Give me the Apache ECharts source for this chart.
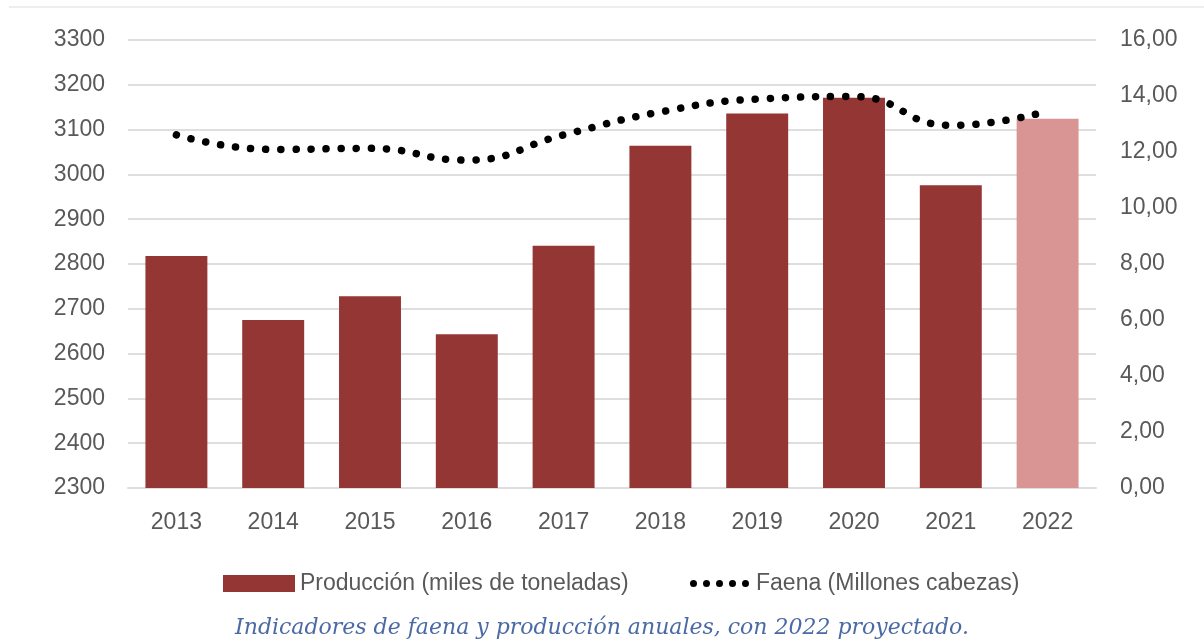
<!DOCTYPE html>
<html>
<head>
<meta charset="utf-8">
<title>Faena y producción</title>
<script src="https://cdn.jsdelivr.net/npm/echarts@6/dist/echarts.min.js"></script>
<style>
	html, body { margin: 0; padding: 0; background: #ffffff; }
	#chart_faena { width: 1204px; height: 641px; }
</style>
</head>
<body>
<div id="chart_faena"></div>
<script>
	// datos
	var years = ['2013', '2014', '2015', '2016', '2017', '2018', '2019', '2020', '2021', '2022'];
	var produccion = [2818, 2675, 2728, 2643, 2841, 3064, 3136, 3171, 2976, 3124];
	var faena = [12.61, 12.09, 12.13, 11.71, 12.61, 13.43, 13.89, 13.98, 12.95, 13.46];
	var projected_year = '2022';

	var bar_color = '#943634';
	var projected_color = '#D99594';
	var grid_color = '#DEDEDE';
	var label_color = '#595959';
	var font = 'Liberation Sans';

	// icono de leyenda: cinco puntos
	var dots_icon = 'path://';
	for (var d = 0; d < 5; d++) {
		var cx = 3.5 + d * 13;
		dots_icon += 'M' + (cx - 3.5) + ',3.5 a3.5,3.5 0 1,0 7,0 a3.5,3.5 0 1,0 -7,0 ';
	}

	var bar_data = produccion.map(function(v, i) {
		if (years[i] === projected_year) {
			return { value: v, itemStyle: { color: projected_color } };
		}
		return v;
	});

	var chart_faena = echarts.init(document.getElementById('chart_faena'));
	var option_faena = {
		animation: false,
		backgroundColor: '#ffffff',
		grid: { left: 128, right: 108, top: 40, bottom: 153 },
		graphic: [{
			type: 'line',
			shape: { x1: 9, y1: 7, x2: 1204, y2: 7 },
			style: { stroke: '#EEEEEE', lineWidth: 2 }
		}],
		title: {
			text: 'Indicadores de faena y producción anuales, con 2022 proyectado.',
			left: 'center',
			top: 612,
			textStyle: {
				fontFamily: 'DejaVu Serif',
				fontStyle: 'italic',
				fontWeight: 'normal',
				fontSize: 22,
				color: '#4B6AA5'
			}
		},
		legend: [{
			data: [{ name: 'Producción (miles de toneladas)', icon: 'rect' }],
			left: 218,
			top: 567,
			itemWidth: 72,
			itemHeight: 17,
			textStyle: { fontFamily: font, fontSize: 23, color: label_color }
		}, {
			data: [{ name: 'Faena (Millones cabezas)', icon: dots_icon }],
			left: 685,
			top: 567,
			itemWidth: 59,
			itemHeight: 7,
			textStyle: { fontFamily: font, fontSize: 23, color: label_color, padding: [0, 0, 0, 2] }
		}],
		xAxis: {
			type: 'category',
			data: years,
			axisTick: { show: false },
			axisLine: { lineStyle: { color: grid_color, width: 2 } },
			axisLabel: { fontFamily: font, fontSize: 23, color: label_color, margin: 23 }
		},
		yAxis: [{
			type: 'value',
			min: 2300,
			max: 3300,
			interval: 100,
			axisLine: { show: false },
			axisTick: { show: false },
			splitLine: { lineStyle: { color: grid_color, width: 2 } },
			axisLabel: {
				fontFamily: font,
				fontSize: 23,
				color: label_color,
				margin: 23,
				formatter: function(v) { return String(v); }
			}
		}, {
			type: 'value',
			min: 0,
			max: 16,
			interval: 2,
			axisLine: { show: false },
			axisTick: { show: false },
			splitLine: { show: false },
			axisLabel: {
				fontFamily: font,
				fontSize: 23,
				color: label_color,
				margin: 24,
				formatter: function(v) { return v.toFixed(2).replace('.', ','); }
			}
		}],
		series: [{
			name: 'Producción (miles de toneladas)',
			type: 'bar',
			data: bar_data,
			barWidth: '64%',
			itemStyle: { color: bar_color }
		}, {
			name: 'Faena (Millones cabezas)',
			type: 'line',
			yAxisIndex: 1,
			data: faena,
			smooth: true,
			showSymbol: false,
			symbol: 'none',
			color: '#000000',
			lineStyle: { color: '#000000', width: 7.5, type: [0.1, 15], cap: 'round' }
		}]
	};
	chart_faena.setOption(option_faena);
</script>
</body>
</html>
